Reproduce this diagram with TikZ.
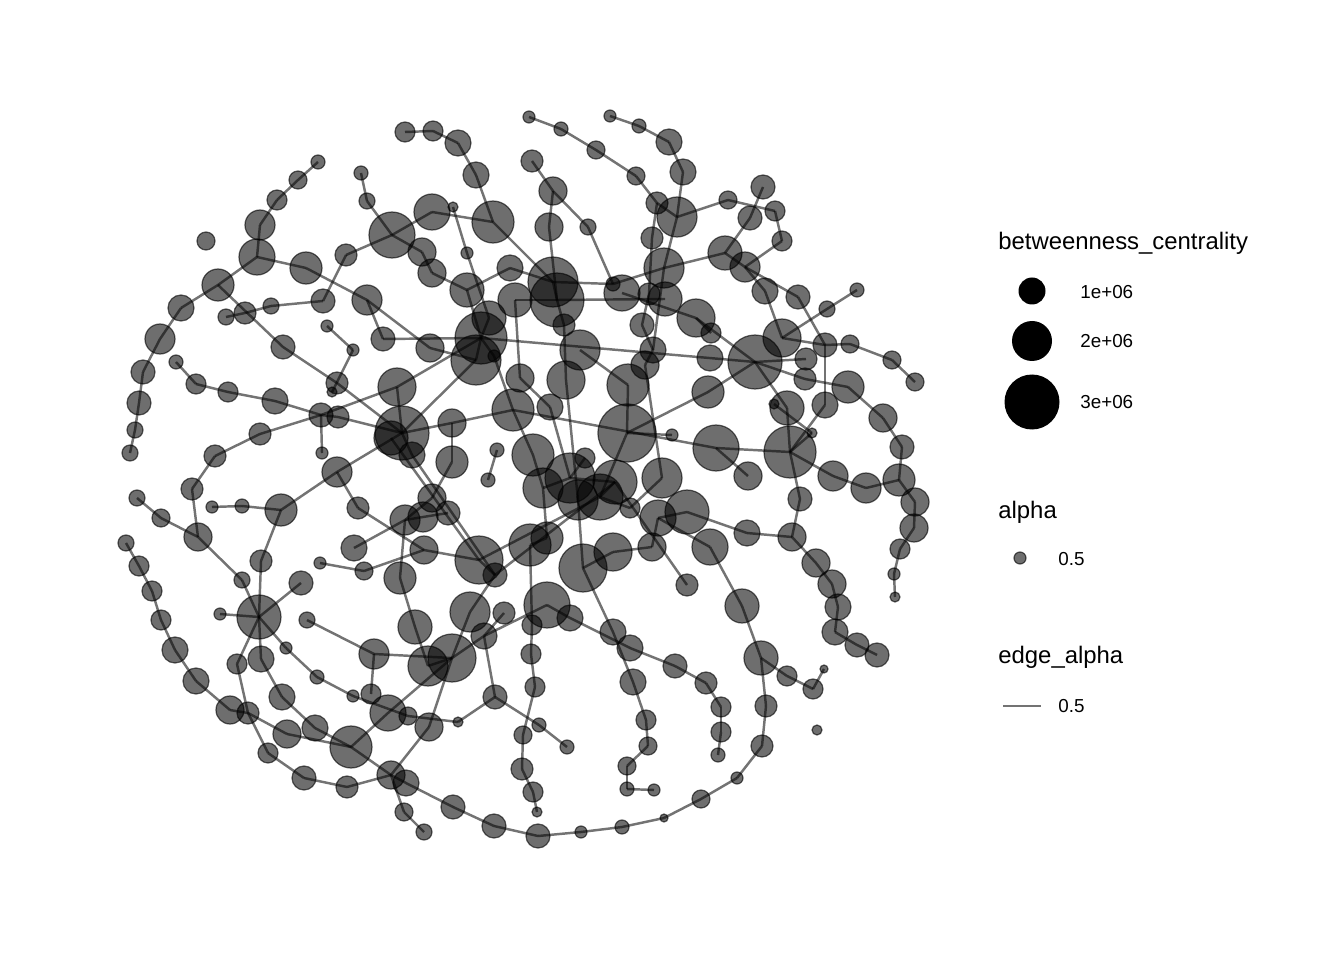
\documentclass[tikz,border=0pt]{standalone}
\usepackage{fontspec}
\setmainfont{Liberation Sans}
\usepackage{tikz}
\usetikzlibrary{positioning}

\newcommand{\legtitle}{\fontsize{13.6}{16}\selectfont}
\newcommand{\leglabel}{\fontsize{10.7}{13}\selectfont}

\pgfdeclarelayer{edges}
\pgfsetlayers{edges,main}

\tikzset{
  vtx/.style={circle, inner sep=0pt, fill=black, fill opacity=0.57, draw=black, draw opacity=0.6, line width=0.7pt},
  lnk/.style={draw=black, draw opacity=0.55, line width=1.4pt},
  keydot/.style={circle, inner sep=0pt, fill=black},
}

\begin{document}
\begin{tikzpicture}[x=0.2mm, y=-0.2mm]
  \useasboundingbox (0,0) rectangle (1344,960);

  % vertices: name / x / y / radius (px)
  \foreach \n/\x/\y/\r in {
    a1/318/162/7, a2/298/180/9, a3/277/200/10, a4/260/225/15, a5/257/257/18, a6/206/241/9,
    a7/306/268/16, a8/218/285/16, a9/181/308/13, a10/160/339/15, a11/271/306/8, a12/245/313/11,
    a13/226/317/8, a14/283/347/12, a15/143/372/12, a16/139/403/12, a17/135/430/8, a18/130/453/8,
    b1/405/132/10, b2/433/131/10, b3/458/143/13, b4/476/175/13, b5/493/222/21, b6/361/173/7,
    b7/367/201/8, b8/392/235/23, b9/432/212/18, b10/453/207/5, b11/467/253/6, b12/346/255/11,
    b13/323/301/12, b14/367/300/15, b15/422/252/14, b16/432/273/14, b17/467/290/17, b18/510/268/13,
    b19/515/300/17, b20/489/318/17, b21/481/338/26, b22/327/326/6, b23/383/339/12, b24/430/348/14,
    c1/529/117/6, c2/561/129/7, c3/596/150/9, c4/636/176/9, c5/657/203/11, c6/677/217/20,
    c7/610/116/6, c8/639/126/7, c9/669/142/13, c10/683/172/13, c11/532/161/11, c12/553/191/14,
    c13/549/227/14, c14/588/227/8, c15/652/238/11, c16/664/268/20, c17/725/253/17, c18/553/282/25,
    c19/557/300/27, c20/622/293/18, c21/613/284/7, c22/649/294/11, c23/665/299/17, c24/696/318/19,
    c25/711/333/10, c26/564/325/11, c27/642/325/12, c28/580/350/20, c29/653/350/13,
    d1/763/187/12, d2/728/200/9, d3/775/211/10, d4/750/218/12, d5/782/241/10, d7/745/267/15,
    d8/765/291/13, d9/798/297/12, d10/827/309/8, d11/857/290/7, d12/782/338/19, d13/755/362/27,
    d14/825/345/12, d15/850/344/9, d16/892/360/9, d17/915/382/9,
    e2/806/359/11, e2b/805/379/11, e3/848/387/16, e4/883/418/14, e5/902/447/12, e6/899/480/16,
    e7/915/502/14, e8/914/528/14, e9/900/549/10, e10/894/574/6, e11/895/597/5, e12/866/488/15,
    e13/833/476/15, e14/790/452/26, e15/787/408/17, e16/825/405/13, e17/774/404/5, e18/812/433/5,
    e19/748/476/14, e20/800/499/12, e21/792/537/14, e22/747/533/13, e23/816/563/14, e24/832/584/14,
    e25/716/448/23,
    f1/176/362/7, f2/196/384/10, f3/228/392/10, f4/275/401/13, f5/321/415/12, f6/260/434/11,
    f7/215/456/11, f8/192/489/11, f9/137/498/8, f10/161/518/9, f11/198/537/14, f12/212/507/6,
    f13/242/506/7, f14/281/510/16, f15/261/561/11, f16/126/543/8, f17/139/566/10, f18/152/591/10,
    f19/242/580/8, f25/301/583/12,
    g1/397/387/19, g2/337/383/11, g3/332/392/5, g5/338/417/11, g6/402/433/27, g7/391/438/17,
    g8/412/455/13, g9/452/423/14, g10/452/462/16, g11/322/453/6, g12/337/472/15, g13/358/508/11,
    g14/405/520/15, g15/432/498/14, g16/423/517/15, g17/448/513/12, g18/424/550/14, g19/354/548/13,
    g20/364/571/9, g21/400/578/16, g22/320/563/6, g23/479/560/24, g24/495/575/12, g25/497/450/7,
    g26/488/480/7, g27/476/360/25, g28/494/356/6, g29/513/410/21, g30/533/455/21, g31/353/350/6,
    g32/520/378/14, g33/550/407/13,
    h1/566/380/19, h2/628/385/21, h3/645/365/14, h4/710/358/13, h5/708/392/16, h6/627/433/29,
    h7/672/435/6, h8/585/458/10, h9/570/478/25, h10/543/488/20, h11/578/500/20, h12/600/497/23,
    h13/615/482/22, h14/662/478/20, h15/630/508/10, h16/658/518/18, h17/687/512/22, h18/710/547/18,
    h19/652/547/14, h20/613/552/19, h21/547/538/16, h22/530/545/21, h23/583/568/24, h24/687/585/11,
    i2/161/620/10, i3/175/650/13, i4/196/681/13, i5/230/710/14, i6/248/713/11, i7/287/734/14,
    i8/315/728/13, i9/259/617/22, i10/220/614/6, i11/237/664/10, i12/261/659/13, i13/282/697/13,
    i14/268/753/10, i15/304/778/12, i16/307/620/8, i17/286/648/6, i18/317/677/7,
    j1/415/627/17, j2/470/612/20, j3/504/613/11, j4/484/636/13, j5/374/654/15, j6/428/666/20,
    j7/452/658/24, j8/371/694/10, j9/353/696/6, j10/388/713/18, j11/408/716/9, j12/429/727/14,
    j13/458/722/5, j14/495/697/12, j15/351/747/21, j16/391/775/14, j17/406/783/13, j18/347/787/11,
    j19/404/812/9, j20/424/832/8, j21/453/807/12, j22/494/826/12,
    k1/547/605/23, k2/532/625/10, k3/570/618/13, k4/531/654/10, k5/535/687/10, k6/539/725/7,
    k7/567/747/7, k8/523/735/9, k9/522/769/11, k10/533/792/10, k11/537/812/5, k12/538/836/12,
    k13/581/832/6, k14/622/827/7, k15/664/818/4, k16/701/799/9, k17/613/632/13, k18/630/648/13,
    k19/633/682/13, k20/646/720/10, k21/648/746/9, k22/627/766/9, k23/627/789/7, k24/654/790/6,
    k25/675/666/12, k26/706/683/11, k27/721/707/10, k28/721/732/10, k29/718/755/7,
    l1/742/606/17, l2/761/658/17, l3/787/676/10, l4/813/689/10, l5/824/669/4, l6/817/730/5,
    l7/766/706/11, l8/762/746/11, l9/737/778/6, l10/838/607/13, l11/835/632/13, l12/857/645/12,
    l13/877/655/12}
    \node[vtx, minimum size=\r*0.4mm] (\n) at (\x,\y) {};

  % edges
  \begin{pgfonlayer}{edges}
  \foreach \p/\q in {
    a1/a2, a2/a3, a3/a4, a4/a5, a5/a7, a5/a8, a8/a9, a9/a10, a10/a15, a15/a16, a16/a17, a17/a18,
    a8/a14, a14/g2, a13/a12, a12/a11, a11/b13, a7/b14,
    b1/b2, b2/b3, b3/b4, b4/b5, b6/b7, b7/b8, b8/b9, b9/b5, b10/b11, b11/b20, b8/b12, b12/b13,
    b8/b15, b15/b16, b16/b17, b17/b21, b17/b18, b18/c18, b5/c18, b14/b23, b23/b21, b14/b24,
    b24/g27, b22/g31, g31/g3, b19/c19, b20/b21, b21/g27, b21/d13, b21/g28, g28/g29, b19/g32,
    c1/c2, c2/c3, c3/c4, c4/c5, c5/c6, c7/c8, c8/c9, c9/c10, c10/c6, c6/d2, c6/c16, c16/c29,
    c16/c17, c16/c21, c11/c12, c12/c13, c12/c14, c14/c21, c13/c19, c18/c19, c19/c26, c5/c15,
    c15/c22, c22/c27, c18/c21, c19/c23, c20/c24, c24/c25, c24/d13, c27/c29, c26/h1, c28/h2,
    c29/h3, h3/h14,
    d2/d3, d3/d5, d5/d7, d1/d4, d4/c17, c17/d7, d7/d8, d8/d12, d7/d9, d9/d14, d12/d14, d14/d15,
    d12/d10, d10/d11, d15/d16, d16/d17,
    d13/e2, d13/e2b, e2b/e3, e3/e4, e4/e5, e5/e6, e6/e7, e7/e8, e8/e9, e9/e10, e10/e11, e6/e12,
    e12/e13, e13/e14, e14/e25, e14/e15, e15/d13, e14/e16, e16/d14, e17/e18, e18/e14, e14/e20,
    e20/e21, e21/e22, e21/e23, e23/e24, e25/e19, e24/l10, l10/l11, l11/l12, l12/l13,
    f1/f2, f2/f3, f3/f4, f4/f5, f5/g1, f5/g5, g5/g6, f6/f5, f6/f7, f7/f8, f8/f11, f9/f10,
    f10/f11, f11/f19, f19/i9, f12/f13, f13/f14, f14/f15, f14/g12, g12/g6, f16/f17, f17/f18,
    f18/i2, i2/i3, i3/i4, i4/i5, i5/i6, i6/i7, i7/j15, g11/f5,
    g2/g6, g1/g6, g1/b21, g6/g9, g9/g29, g6/g27, g6/g8, g7/g23, g8/g24, g10/g15, g15/g14,
    g9/g10, g12/g13, g13/g18, g18/g23, g14/g21, g19/g14, g22/g20, g20/g18, g14/g16, g16/g17,
    g25/g26, g29/g30, g30/h10, g29/e25, g23/g24, g23/h12, g24/h13, g32/g33, g33/h9,
    h2/h6, h6/h5, h5/d13, h6/h7, h1/h11, h11/h23, h8/h9, h9/h10, h9/h13, h12/h13, h10/h21,
    h21/h22, h22/k2, h14/h15, h15/h12, h16/h17, h17/e22, h19/h16, h20/h23, h19/h20, h18/l1,
    h13/h24, h12/h6, h16/h18,
    i9/i10, i9/f15, i9/f25, i9/i11, i11/i6, i6/i14, i14/i15, i9/i12, i12/i13, i13/i8, i8/j15,
    i9/i17, i17/i18, i18/j9, j9/j11, j11/j13, j13/j14, j14/j4, j3/j4,
    i16/j5, j5/j7, j5/j8, j2/j7, j7/j4, j4/k1, j7/j12, j12/j16, j7/j10, j10/j15, j18/j16,
    i15/j18, j15/j16, j16/j17, j17/j21, j21/j22, j16/j19, j19/j20, j1/g21, j1/j6, j6/j7,
    j2/g24, j14/k6, k6/k7,
    k1/k3, k2/k4, k4/k5, k5/k8, k8/k9, k9/k10, k10/k11, k12/j22, k12/k13, k13/k14, k14/k15,
    k15/k16, k16/l9, l9/l8, l8/l7, l7/l2, l1/l2, l2/l3, l3/l4, l4/l5, h23/k17, k17/k19,
    k3/k18, k18/k25, k25/k26, k26/k27, k27/k28, k28/k29, k19/k20, k20/k21, k21/k22, k22/k23,
    k23/k24}
    \draw[lnk] (\p.center) -- (\q.center);
  \end{pgfonlayer}

  % legend
  \node[anchor=base west, font=\legtitle, inner sep=0pt] (bctitle) at (998,250) {betweenness\_centrality};
  \node[keydot, minimum size=27*0.2mm] (bc1) at (1032,291) {};
  \node[keydot, minimum size=40*0.2mm] (bc2) at (1032,341) {};
  \node[keydot, minimum size=55*0.2mm] (bc3) at (1032,402) {};
  \node[anchor=west, font=\leglabel, inner sep=0pt] (bcl1) at (1080,292) {1e+06};
  \node[anchor=west, font=\leglabel, inner sep=0pt] (bcl2) at (1080,341) {2e+06};
  \node[anchor=west, font=\leglabel, inner sep=0pt] (bcl3) at (1080,402) {3e+06};

  \node[anchor=base west, font=\legtitle, inner sep=0pt] (altitle) at (998,518) {alpha};
  \node[vtx, minimum size=12*0.2mm] (aldot) at (1020,558) {};
  \node[anchor=west, font=\leglabel, inner sep=0pt] (allab) at (1058,559) {0.5};

  \node[anchor=base west, font=\legtitle, inner sep=0pt] (eatitle) at (998,663) {edge\_alpha};
  \coordinate (eaL) at (1003,706);
  \coordinate (eaR) at (1041,706);
  \draw[lnk] (eaL) -- (eaR);
  \node[anchor=west, font=\leglabel, inner sep=0pt] (ealab) at (1058,706) {0.5};
\end{tikzpicture}
\end{document}
